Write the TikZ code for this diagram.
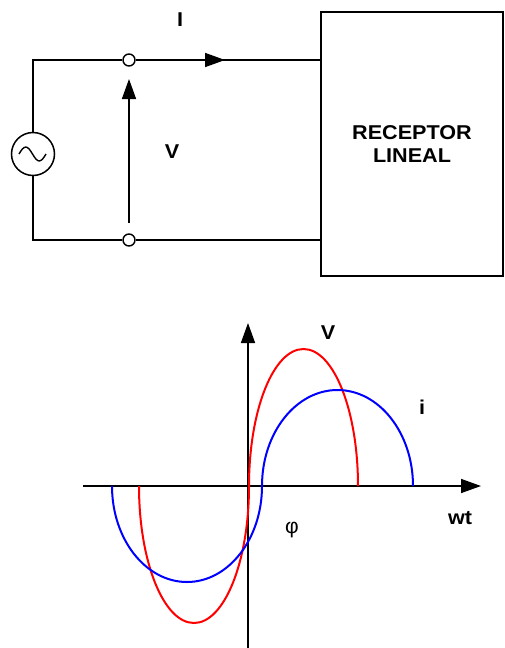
\documentclass[tikz,border=0pt]{standalone}
\usepackage{fontspec}
\setmainfont{Liberation Sans}
\newfontfamily\widefont[FakeStretch=1.08]{Liberation Sans}
\usetikzlibrary{arrows.meta}
\begin{document}
\begin{tikzpicture}[x=1pt,y=-1pt,
  wire/.style={line width=1.5pt},
  term/.style={circle,draw,fill=white,line width=1.4pt,inner sep=0pt,minimum size=12pt},
  arr/.style={line width=1.5pt,-{Triangle[length=20pt,width=14pt]}},
  lbl/.style={font=\widefont\fontsize{20}{23}\selectfont\bfseries},
  curve/.style={line width=2pt}]
\useasboundingbox (0,0) rectangle (504,648);
% circuit
\node[circle,draw,wire,minimum size=43pt,inner sep=0pt] (src) at (33,154) {};
\node[term] (t1) at (129,60) {};
\node[term] (t2) at (129,240) {};
\node[draw,wire,minimum width=182pt,minimum height=264pt,inner sep=0pt,align=center,lbl] (rx) at (412,144) {RECEPTOR\\LINEAL};
\draw[wire] (src.north) |- (t1.west);
\draw[wire] (src.south) |- (t2.west);
\draw[wire] (t1.east) -- (t1 -| rx.west);
\draw[wire] (t2.east) -- (t2 -| rx.west);
\draw[line width=1.4pt] (19,154) sin (25.75,147) cos (32.5,154) sin (39.25,161) cos (46,154);
\coordinate (ia) at (177,60);
\coordinate (ib) at (225,60);
\draw[arr] (ia) -- (ib);
\coordinate (va) at (129,223);
\coordinate (vb) at (129,79);
\draw[arr] (va) -- (vb);
\node[lbl] (lI) at (180,20) {I};
\node[lbl] (lV) at (172,152) {V};
% graph
\coordinate (xs) at (83,486);
\coordinate (xe) at (481,486);
\coordinate (ys) at (248,648);
\coordinate (ye) at (248,323);
\draw[arr] (xs) -- (xe);
\draw[arr] (ys) -- (ye);
\draw[curve,red] (139,486) arc[start angle=180,end angle=360,x radius=55pt,y radius=137pt]
  arc[start angle=180,end angle=0,x radius=54.5pt,y radius=137pt];
\draw[curve,blue] (112,486) arc[start angle=180,end angle=360,x radius=75pt,y radius=96pt]
  arc[start angle=180,end angle=0,x radius=75.5pt,y radius=96pt];
\node[lbl] (gV) at (328,333) {V};
\node[lbl] (gi) at (422,407) {i};
\node[lbl] (gw) at (460,518) {wt};
\node[font=\fontsize{21}{23}\selectfont] (gp) at (292,530) {φ};
\end{tikzpicture}
\end{document}
